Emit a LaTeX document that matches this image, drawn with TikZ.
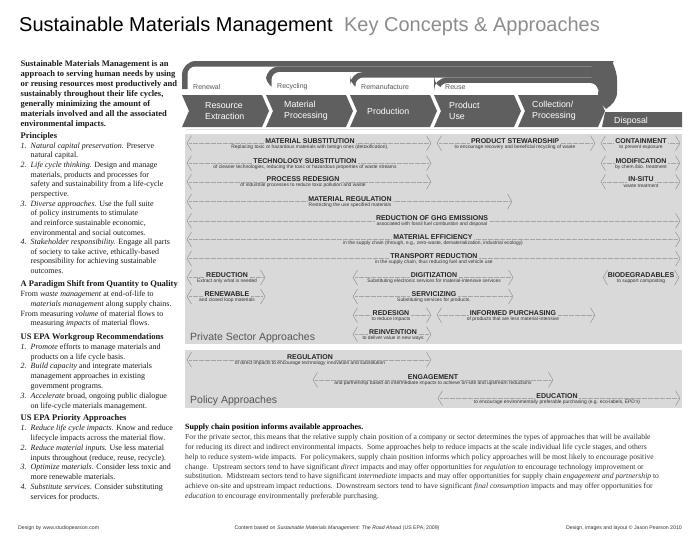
\documentclass[tikz,border=0pt]{standalone}
\usepackage{fontspec}
\setmainfont{Liberation Serif}
\setsansfont{Liberation Sans}
\usetikzlibrary{positioning}

\definecolor{stagegray}{HTML}{5F5F5F}
\definecolor{boxgray}{HTML}{D9D9D9}
\definecolor{titlegray}{HTML}{8C8C8C}
\definecolor{labgray}{HTML}{555555}
\definecolor{leadgray}{HTML}{A5A5A5}
\definecolor{textgray}{HTML}{333333}

\newcommand{\itm}[1]{\makebox[10pt][l]{\textit{#1.}}}
\newcommand{\ind}{\hspace*{10pt}}
\newcommand{\hd}[1]{{\bfseries\fontsize{8.5}{9.8}\selectfont #1}}

\tikzset{
  headline/.style={font=\sffamily\fontsize{20}{24}\selectfont, anchor=base west, inner sep=0pt},
  apptitle/.style={font=\sffamily\bfseries\fontsize{7}{8}\selectfont, inner sep=1.5pt, anchor=base, text=black!85},
  appsub/.style={font=\sffamily\fontsize{4.9}{5.5}\selectfont, inner sep=0pt, text=black!80},
  brk/.style={draw=black!50, line width=0.35pt},
  lead/.style={draw=leadgray, line width=0.3pt, dash pattern=on 0.4pt off 0.8pt},
  stagetxt/.style={font=\sffamily\fontsize{8.8}{11}\selectfont, text=white, align=left, anchor=west, inner sep=0pt},
  looplbl/.style={font=\sffamily\fontsize{7}{8}\selectfont, text=labgray, anchor=west, inner sep=0pt},
  sectlbl/.style={font=\sffamily\fontsize{10.5}{12}\selectfont, text=labgray, anchor=west, inner sep=0pt},
  % 多行节点: base 为最后一行的基线
  coltxt/.style={font=\fontsize{8}{9.8}\selectfont, align=left, anchor=base west, inner sep=0pt, text=black!90},
  foot/.style={font=\sffamily\fontsize{5.2}{6}\selectfont, text=black!80, inner sep=0pt, anchor=base},
}

\begin{document}
\begin{tikzpicture}[x=1pt,y=-1pt]
  \useasboundingbox (0,0) rectangle (700,541);
  % 标题
  \node[headline] (title) at (19,31) {Sustainable Materials Management};
  \node[headline, text=titlegray, right=11pt of title.base east, anchor=base west] (subtitle) {Key Concepts \& Approaches};

  % 左栏
  \node[coltxt, font=\bfseries\fontsize{8.5}{10}\selectfont] (intro) at (20.5,126.5) {Sustainable Materials Management is an\\ approach to serving human needs by using\\ or reusing resources most productively and\\ sustainably throughout their life cycles,\\ generally minimizing the amount of\\ materials involved and all the associated\\ environmental impacts.};
  \node[coltxt, font=\fontsize{8}{9.65}\selectfont] (principles) at (20.5,273.6) {\hd{Principles}\\
    \itm{1}\textit{Natural capital preservation.} Preserve\\
    \ind natural capital.\\
    \itm{2}\textit{Life cycle thinking.} Design and manage\\
    \ind materials, products and processes for\\
    \ind safety and sustainability from a life-cycle\\
    \ind perspective.\\
    \itm{3}\textit{Diverse approaches.} Use the full suite\\
    \ind of policy instruments to stimulate\\
    \ind and reinforce sustainable economic,\\
    \ind environmental and social outcomes.\\
    \itm{4}\textit{Stakeholder responsibility.} Engage all parts\\
    \ind of society to take active, ethically-based\\
    \ind responsibility for achieving sustainable\\
    \ind outcomes.};
  \node[coltxt, font=\fontsize{8}{9.75}\selectfont] (paradigm) at (20.5,325.8) {\hd{A Paradigm Shift from Quantity to Quality}\\
    From \textit{waste management} at end-of-life to\\
    \ind\textit{materials management} along supply chains.\\
    From measuring \textit{volume} of material flows to\\
    \ind measuring \textit{impacts} of material flows.};
  \node[coltxt, font=\fontsize{8}{9.9}\selectfont] (workgroup) at (20.5,408.5) {\hd{US EPA Workgroup Recommendations}\\
    \itm{1}\textit{Promote} efforts to manage materials and\\
    \ind products on a life cycle basis.\\
    \itm{2}\textit{Build capacity} and integrate materials\\
    \ind management approaches in existing\\
    \ind government programs.\\
    \itm{3}\textit{Accelerate} broad, ongoing public dialogue\\
    \ind on life-cycle materials management.};
  \node[coltxt, font=\fontsize{8}{9.84}\selectfont] (priority) at (20.5,499.5) {\hd{US EPA Priority Approaches}\\
    \itm{1}\textit{Reduce life cycle impacts.} Know and reduce\\
    \ind lifecycle impacts across the material flow.\\
    \itm{2}\textit{Reduce material inputs.} Use less material\\
    \ind inputs throughout (reduce, reuse, recycle).\\
    \itm{3}\textit{Optimize materials.} Consider less toxic and\\
    \ind more renewable materials.\\
    \itm{4}\textit{Substitute services.} Consider substituting\\
    \ind services for products.};

  % 回路
  \fill[stagegray] (182,89) [rounded corners=14] -- (182,61) -- (600,61) [sharp corners]
    .. controls (610,61) and (617,68) .. (617,80) -- (617,92)
    .. controls (617,100) and (612,105) .. (606,109) -- (598,101) -- (598,89) -- cycle;
  \foreach \i/\lx/\lb in {0/182/Renewal,1/266/Recycling,2/350/Remanufacture,3/434/Reuse} {
    \pgfmathsetmacro\tp{61+5.5*\i}
    \ifnum\i>0
      \fill[stagegray, rounded corners=13] (\lx,89) rectangle (612,\tp);
    \fi
    \fill[white, rounded corners=8] (\lx+5.5,\tp+5.5) rectangle (598,100);
    \node[looplbl] (loop\i) at (\lx+11,87) {\lb};
  }

  % 生命周期阶段
  \foreach \i/\tx/\la in {0/205/{Resource\\Extraction},1/284/{Material\\Processing},2/367/{Production},3/449/{Product\\Use},4/532/{Collection/\\Processing}} {
    \pgfmathsetmacro\cx{182+84*\i}
    \fill[stagegray] (\cx,95) -- (\cx+80,95) -- (\cx+87,111) -- (\cx+80,127) -- (\cx,127) -- (\cx+7,111) -- cycle;
    \node[stagetxt] (stage\i) at (\tx,111) {\la};
  }
  \fill[stagegray] (605,112) -- (682,112) -- (682,127) -- (602,127) -- cycle;
  \node[stagetxt] (stage5) at (614,121) {Disposal};
  \draw[black!12, line width=0.8pt] (186,129.5) -- (682,129.5);

  % 灰色区域
  \fill[boxgray] (185,134) rectangle (682,344);
  \fill[boxgray] (185,350) rectangle (682,408);
  \node[sectlbl] (privlbl) at (190,338) {Private Sector Approaches};
  \node[sectlbl] (pollbl) at (190,401) {Policy Approaches};

  % 方法
  \foreach \n/\xa/\xb/\xc/\y/\ti/\su in {
    ms/187/431/310/140.7/{MATERIAL SUBSTITUTION}/{Replacing toxic or hazardous materials with benign ones (detoxification).},
    ps/437/595/515/140.7/{PRODUCT STEWARDSHIP}/{to encourage recovery and beneficial recycling of waste},
    ct/601/680/641/140.7/{CONTAINMENT}/{to prevent exposure},
    ts/187/431/305/160.7/{TECHNOLOGY SUBSTITUTION}/{of cleaner technologies, reducing the toxic or hazardous properties of waste streams},
    mo/601/680/641/160.7/{MODIFICATION}/{by chem./bio. treatment},
    pr/187/431/303/179.3/{PROCESS REDESIGN}/{of industrial processes to reduce toxic pollution and waste},
    is/601/680/641/179.3/{IN-SITU}/{waste treatment},
    mr/187/512/350/199/{MATERIAL REGULATION}/{Restricting the use specified materials},
    gh/187/680/432/218.3/{REDUCTION OF GHG EMISSIONS}/{associated with fossil fuel combustion and disposal},
    me/187/680/433/237/{MATERIAL EFFICIENCY}/{in the supply chain (through, e.g., zero-waste, dematerialization, industrial ecology)},
    tr/187/680/434/256/{TRANSPORT REDUCTION}/{in the supply chain, thus reducing fuel and vehicle use},
    rd/187/265/227/275/{REDUCTION}/{Extract only what is needed},
    dg/353/513/434/275/{DIGITIZATION}/{Substituting electronic services for material-intensive services},
    bd/603/679/641/275/{BIODEGRADABLES}/{to support composting},
    rn/187/265/227/294/{RENEWABLE}/{and closed loop materials},
    sv/353/513/434/294/{SERVICIZING}/{Substituting services for products.},
    rs/353/431/391/312.7/{REDESIGN}/{to reduce impacts},
    ip/437/595/513/312.7/{INFORMED PURCHASING}/{of products that are less material-intensive},
    ri/353/431/393/331.7/{REINVENTION}/{to deliver value in new ways},
    rg/187/431/310/357.3/{REGULATION}/{of direct impacts to encourage technology innovation and substitution},
    en/313/553/433/377.3/{ENGAGEMENT}/{and partnership based on intermediate impacts to achieve on-site and upstream reductions},
    ed/438/680/557/395.7/{EDUCATION}/{to encourage environmentally preferable purchasing (e.g. eco-labels, EPD's)}} {
    \coordinate (\n-l) at (\xa,\y+2.5);
    \coordinate (\n-r) at (\xb,\y+2.5);
    \node[apptitle] (\n) at (\xc,\y+2.5) {\ti};
    \node[appsub] (\n-s) at (\xc,\y+6.3) {\su};
    \draw[brk] ([shift={(4.5,-7.5)}]\n-l) -- (\n-l) -- ([shift={(4.5,7.5)}]\n-l);
    \draw[brk] ([shift={(-4.5,-7.5)}]\n-r) -- (\n-r) -- ([shift={(-4.5,7.5)}]\n-r);
    \draw[lead] ([xshift=2]\n-l) -- (\n.base west);
    \draw[lead] (\n.base east) -- ([xshift=-2]\n-r);
  }

  % 说明
  \node[coltxt, font=\fontsize{7.65}{9.81}\selectfont, text=textgray] (para) at (185,498.5) {{\bfseries\fontsize{8}{9.81}\selectfont\color{black}Supply chain position informs available approaches.}\\
    For the private sector, this means that the relative supply chain position of a company or sector determines the types of approaches that will be available\\
    for reducing its direct and indirect environmental impacts.\ \ Some approaches help to reduce impacts at the scale individual life cycle stages, and others\\
    help to reduce system-wide impacts.\ \ For policymakers, supply chain position informs which policy approaches will be most likely to encourage positive\\
    change.\ \ Upstream sectors tend to have significant \textit{direct} impacts and may offer opportunities for \textit{regulation} to encourage technology improvement or\\
    substitution.\ \ Midstream sectors tend to have significant \textit{intermediate} impacts and may offer opportunities for supply chain \textit{engagement and partnership} to\\
    achieve on-site and upstream impact reductions.\ \ Downstream sectors tend to have significant \textit{final consumption} impacts and may offer opportunities for\\
    \textit{education} to encourage environmentally preferable purchasing.};

  % 页脚
  \node[foot, anchor=base west] (foot1) at (18,529) {Design by www.studiopearson.com};
  \node[foot] (foot2) at (337,529) {Content based on \textit{Sustainable Materials Management: The Road Ahead} (US EPA, 2009)};
  \node[foot, anchor=base east] (foot3) at (682,529) {Design, images and layout © Jason Pearson 2010};
\end{tikzpicture}
\end{document}
